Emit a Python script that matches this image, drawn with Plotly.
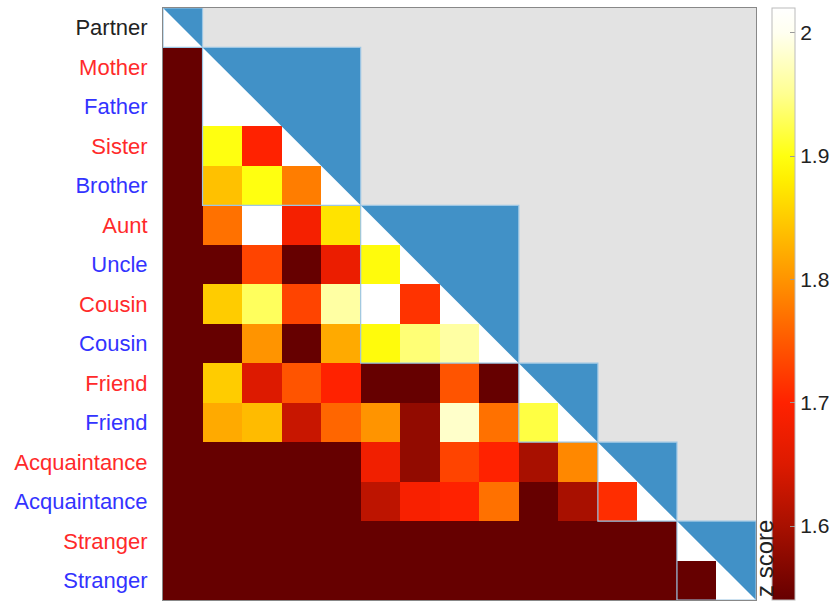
import plotly.graph_objects as go

# ---------------- data ----------------
labels = ["Partner", "Mother", "Father", "Sister", "Brother", "Aunt", "Uncle",
          "Cousin", "Cousin", "Friend", "Friend", "Acquaintance", "Acquaintance",
          "Stranger", "Stranger"]
label_colors = ["#222222", "#ff2a2a", "#3333ff", "#ff2a2a", "#3333ff", "#ff2a2a",
                "#3333ff", "#ff2a2a", "#3333ff", "#ff2a2a", "#3333ff", "#ff2a2a",
                "#3333ff", "#ff2a2a", "#3333ff"]

# lower-triangle z scores, row by row (columns 0 .. row-1)
row_partner = []
row_mother = [1.50]
row_father = [1.50, 2.05]
row_sister = [1.50, 1.90, 1.70]
row_brother = [1.50, 1.84, 1.90, 1.78]
row_aunt = [1.50, 1.77, 2.05, 1.685, 1.87]
row_uncle = [1.50, 1.50, 1.73, 1.50, 1.67, 1.895]
row_cousin_f = [1.50, 1.85, 1.93, 1.73, 1.96, 2.05, 1.715]
row_cousin_m = [1.50, 1.50, 1.80, 1.50, 1.82, 1.895, 1.94, 1.96]
row_friend_f = [1.50, 1.85, 1.65, 1.745, 1.70, 1.50, 1.50, 1.745, 1.50]
row_friend_m = [1.50, 1.82, 1.835, 1.63, 1.76, 1.80, 1.58, 1.98, 1.77, 1.92]
row_acq_f = [1.50, 1.50, 1.50, 1.50, 1.50, 1.68, 1.58, 1.73, 1.70, 1.60, 1.79]
row_acq_m = [1.50, 1.50, 1.50, 1.50, 1.50, 1.62, 1.69, 1.70, 1.77, 1.50, 1.60, 1.71]
row_stranger_f = [1.50] * 13
row_stranger_m = [1.50] * 14

rows = [row_partner, row_mother, row_father, row_sister, row_brother, row_aunt,
        row_uncle, row_cousin_f, row_cousin_m, row_friend_f, row_friend_m,
        row_acq_f, row_acq_m, row_stranger_f, row_stranger_m]

# diagonal blocks (first index, last index)
blocks = [(0, 0), (1, 4), (5, 8), (9, 10), (11, 12), (13, 14)]

colorbar_ticks = [1.6, 1.7, 1.8, 1.9, 2.0]
zmin, zmax = 1.54, 2.02

# ---------------- figure ----------------
n = len(labels)
z = []
for r in range(n):
    z.append(list(rows[r]) + [None] * (n - len(rows[r])))

stops = [(1.54, "#660000"), (1.60, "#a81000"), (1.65, "#dd1a00"), (1.70, "#ff2200"),
         (1.75, "#ff5a00"), (1.80, "#ff9400"), (1.85, "#ffcc00"), (1.88, "#ffee00"),
         (1.90, "#ffff10"), (1.95, "#ffff90"), (2.00, "#fffff0"), (2.02, "#ffffff")]
colorscale = [[(v - zmin) / (zmax - zmin), c] for v, c in stops]

fig = go.Figure()
fig.add_trace(go.Heatmap(
    z=z, x=list(range(n)), y=list(range(n)),
    zmin=zmin, zmax=zmax, colorscale=colorscale, hoverongaps=False,
    colorbar=dict(
        x=1.027, xanchor="left", y=0.5, yanchor="middle", len=1.0, lenmode="fraction",
        thickness=23, ypad=0, xpad=0,
        outlinecolor="#bbbbbb", outlinewidth=1,
        tickvals=colorbar_ticks, ticktext=["1.6", "1.7", "1.8", "1.9", "2"],
        ticks="inside", ticklen=5, tickcolor="#999999",
        tickfont=dict(family="Liberation Sans, Arial", size=21, color="#222222"),
    ),
))

shapes = []
for a, b in blocks:
    # white background of block
    shapes.append(dict(type="rect", xref="x", yref="y", x0=a - 0.5, x1=b + 0.5,
                       y0=a - 0.5, y1=b + 0.5, fillcolor="white",
                       line=dict(width=0), layer="below"))
for a, b in blocks:
    # blue upper triangle
    x0, x1, y0, y1 = a - 0.5, b + 0.5, a - 0.5, b + 0.5
    shapes.append(dict(type="path", xref="x", yref="y",
                       path=f"M {x0} {y0} L {x1} {y0} L {x1} {y1} Z",
                       fillcolor="#4191c7", line=dict(width=0), layer="above"))
    shapes.append(dict(type="rect", xref="x", yref="y", x0=x0, x1=x1, y0=y0, y1=y1,
                       fillcolor="rgba(0,0,0,0)",
                       line=dict(color="#9cc6e4", width=1.2), layer="above"))

fig.update_layout(shapes=shapes)

fig.add_annotation(text="z score", textangle=-90, xref="paper", yref="paper",
                   x=1.0, xanchor="left", xshift=-7, y=0.0, yanchor="bottom", yshift=1,
                   showarrow=False,
                   font=dict(family="Liberation Sans, Arial", size=24, color="#222222"))

ticktext = [f"<span style='color:{c}'>{t}</span>" for t, c in zip(labels, label_colors)]

fig.update_xaxes(range=[-0.5, n - 0.5], showticklabels=False, showgrid=False,
                 zeroline=False, showline=True, mirror=True, linecolor="#888888",
                 linewidth=1, ticks="", automargin=False)
fig.update_yaxes(range=[n - 0.5, -0.5], tickvals=list(range(n)), ticktext=ticktext,
                 showgrid=False, zeroline=False, showline=True, mirror=True,
                 linecolor="#888888", linewidth=1, ticks="", ticklabelstandoff=10,
                 automargin=False,
                 tickfont=dict(family="Liberation Sans, Arial", size=22))

fig.update_layout(
    width=830, height=603,
    margin=dict(l=163, r=74, t=8, b=3, autoexpand=False),
    paper_bgcolor="white", plot_bgcolor="#e3e3e3",
    showlegend=False,
)

fig.write_html("out.html", config={"displayModeBar": False},
               post_script="document.body.style.margin='0px';"
                           "document.body.style.overflow='hidden';")
